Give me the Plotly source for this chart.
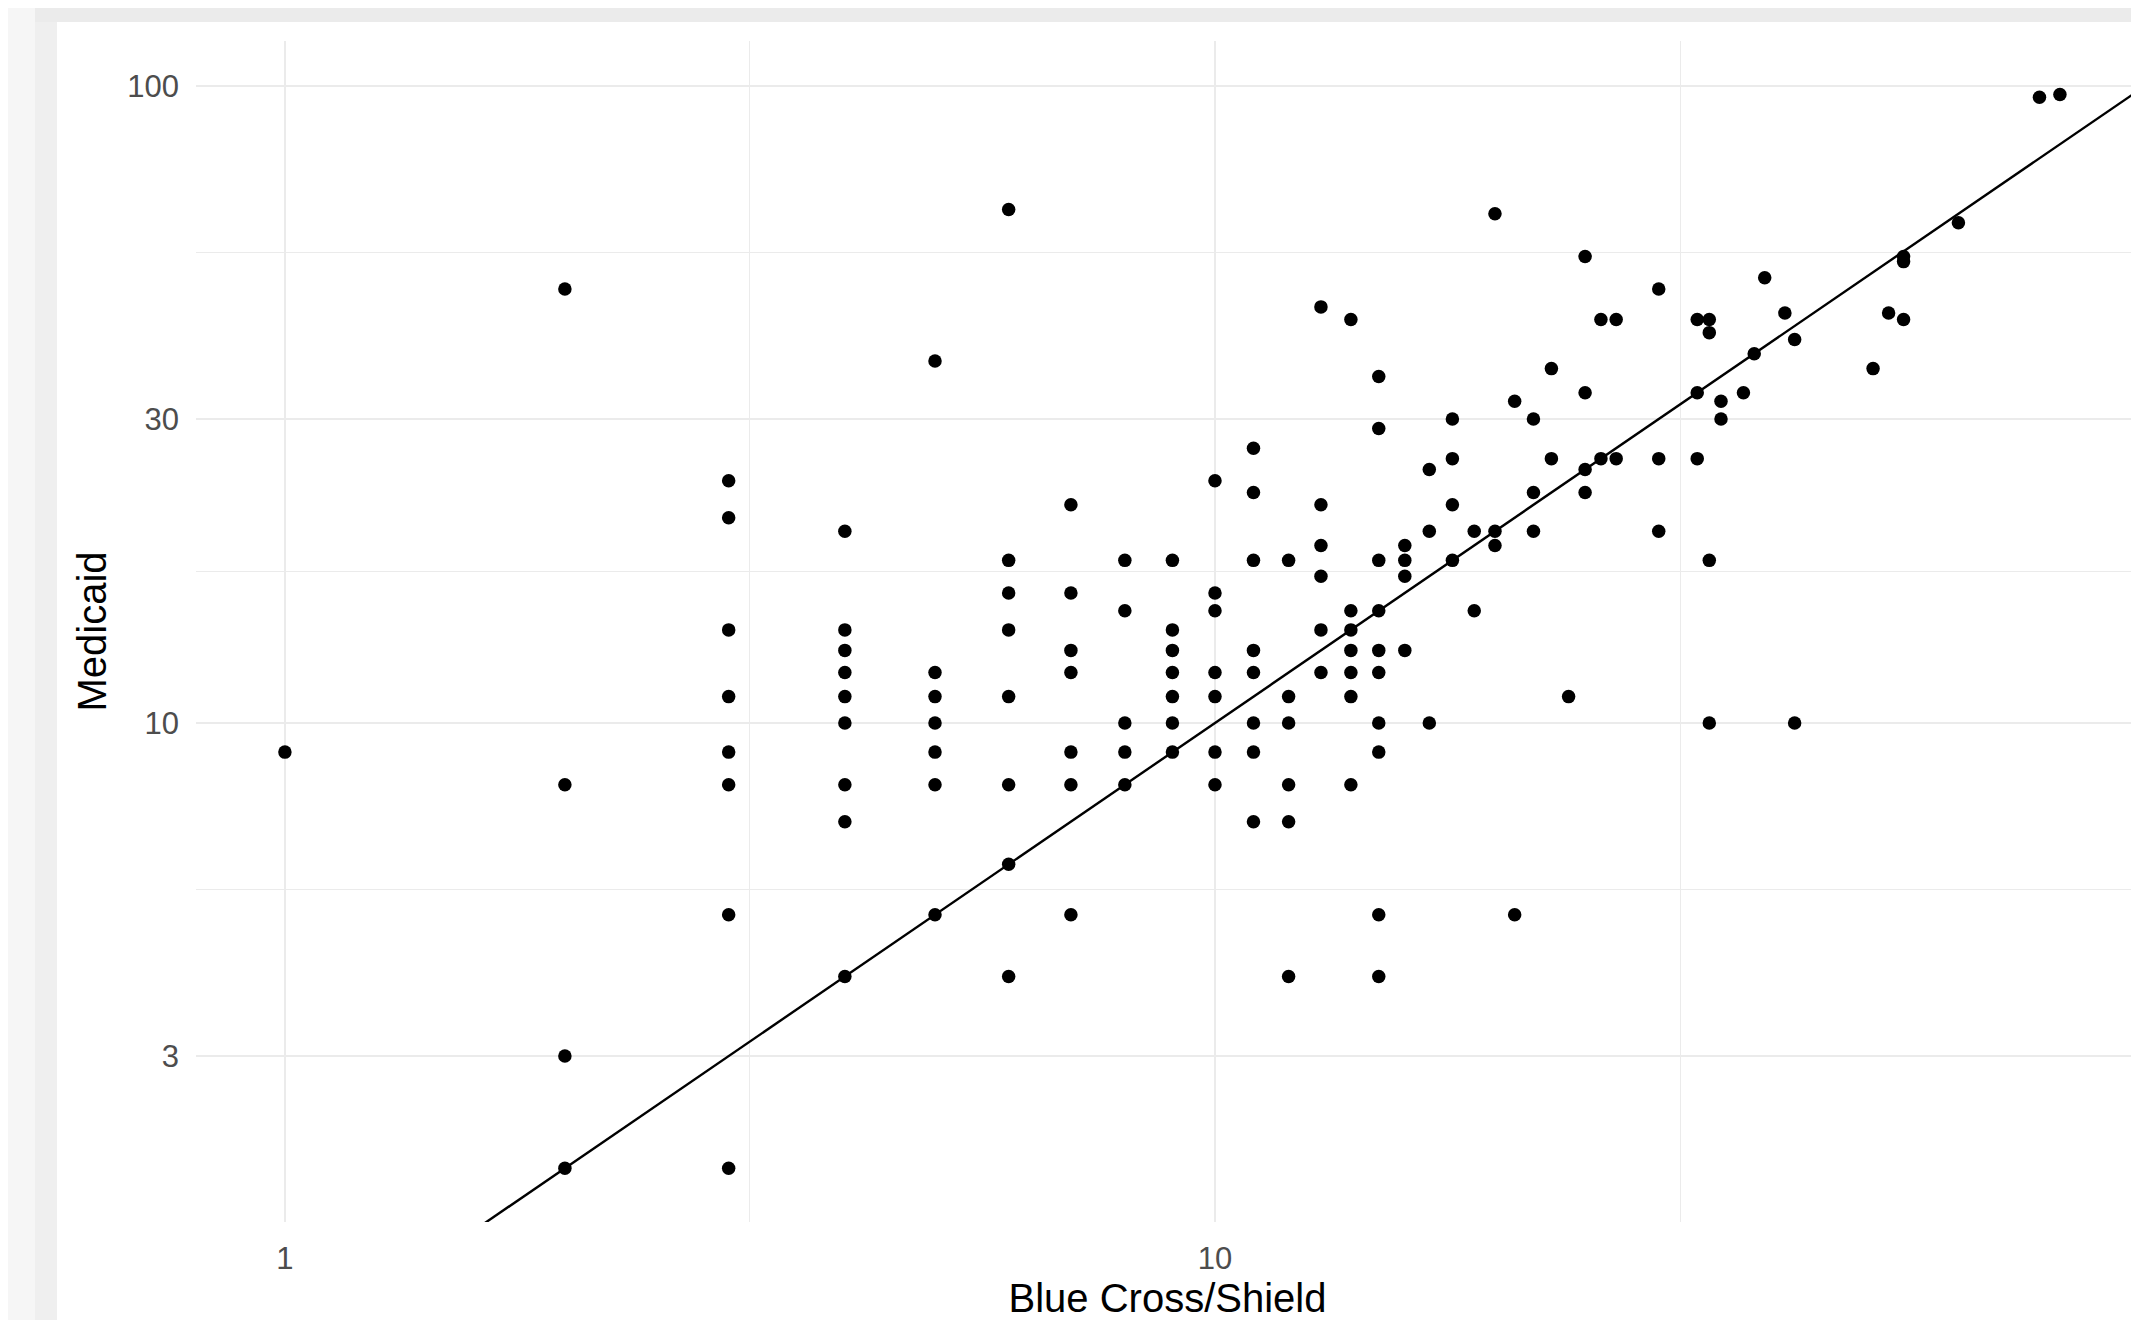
import plotly.graph_objects as go

# Blue Cross/Shield (x) and Medicaid (y) values, read column by column
blue_cross = [
    1,
    2, 2, 2, 2,
    3, 3, 3, 3, 3, 3, 3, 3,
    4, 4, 4, 4, 4, 4, 4, 4, 4,
    5, 5, 5, 5, 5, 5, 5,
    6, 6, 6, 6, 6, 6, 6, 6,
    7, 7, 7, 7, 7, 7, 7,
    8, 8, 8, 8, 8,
    9, 9, 9, 9, 9, 9, 9,
    10, 10, 10, 10, 10, 10, 10,
    11, 11, 11, 11, 11, 11, 11, 11,
    12, 12, 12, 12, 12, 12,
    13, 13, 13, 13, 13, 13,
    14, 14, 14, 14, 14, 14, 14,
    15, 15, 15, 15, 15, 15, 15, 15, 15, 15,
    16, 16, 16, 16,
    17, 17, 17,
    18, 18, 18, 18,
    19, 19,
    20, 20, 20,
    21, 21,
    22, 22, 22,
    23, 23,
    24,
    25, 25, 25, 25,
    26, 26,
    27, 27,
    30, 30, 30,
    33, 33, 33,
    34, 34, 34, 34,
    35, 35,
    37,
    38,
    39,
    41,
    42, 42,
    51,
    53,
    55, 55, 55,
    63,
    77,
    81,
]
medicaid = [
    9,
    48, 8, 3, 2,
    24, 21, 14, 11, 9, 8, 5, 2,
    20, 14, 13, 12, 11, 10, 8, 7, 4,
    37, 12, 11, 10, 9, 8, 5,
    64, 18, 16, 14, 11, 8, 6, 4,
    22, 16, 13, 12, 9, 8, 5,
    18, 15, 10, 9, 8,
    18, 14, 13, 12, 11, 10, 9,
    24, 16, 15, 12, 11, 9, 8,
    27, 23, 18, 13, 12, 10, 9, 7,
    18, 11, 10, 8, 7, 4,
    45, 22, 19, 17, 14, 12,
    43, 15, 14, 13, 12, 11, 8,
    35, 29, 18, 15, 13, 12, 10, 9, 5, 4,
    19, 18, 17, 13,
    25, 20, 10,
    30, 26, 22, 18,
    20, 15,
    63, 20, 19,
    32, 5,
    30, 23, 20,
    36, 26,
    11,
    54, 33, 25, 23,
    43, 26,
    43, 26,
    48, 26, 20,
    43, 33, 26,
    43, 41, 18, 10,
    32, 30,
    33,
    38,
    50,
    44,
    40, 10,
    36,
    44,
    54, 53, 43,
    61,
    96,
    97,
]

# identity reference line (y = x)
ref_line = [0.5, 200]

x_ticks = [1, 10, 100]
x_tick_labels = ["1", "10", "100"]
y_ticks = [3, 10, 30, 100]
y_tick_labels = ["3", "10", "30", "100"]
x_minor = [10 ** 0.5, 10 ** 1.5]
y_minor = [30 ** 0.5, 300 ** 0.5, 3000 ** 0.5]

x_title = "Blue Cross/Shield"
y_title = "Medicaid"

# the page body has an 8px margin; size the figure so the page never scrolls
OFF = 8
W, H = 2139 - OFF, 1328 - 2 * OFF
L, R, T = 196 - OFF, 0, 41 - OFF
B = H - (1222 - OFF)
PW, PH = W - L - R, H - T - B


def px_x(p):
    # page pixel -> paper coordinate
    return (p - OFF - L) / PW


def px_y(p):
    return (H - B - (p - OFF)) / PH


FONT = "Arial, Liberation Sans, Helvetica, sans-serif"
GRID = "#ebebeb"

fig = go.Figure()
fig.add_trace(go.Scatter(
    x=blue_cross, y=medicaid, mode="markers",
    marker=dict(color="black", size=13.5, line=dict(width=0)),
    hoverinfo="skip", showlegend=False,
))
fig.add_trace(go.Scatter(
    x=ref_line, y=ref_line, mode="lines",
    line=dict(color="black", width=2.4),
    hoverinfo="skip", showlegend=False,
))

shapes = [
    dict(type="rect", xref="paper", yref="paper", layer="below",
         x0=px_x(0), x1=px_x(35), y0=px_y(1340), y1=px_y(0),
         fillcolor="#f6f6f6", line=dict(width=0)),
    dict(type="rect", xref="paper", yref="paper", layer="below",
         x0=px_x(35), x1=px_x(57), y0=px_y(1340), y1=px_y(0),
         fillcolor="#efefef", line=dict(width=0)),
    dict(type="rect", xref="paper", yref="paper", layer="below",
         x0=px_x(35), x1=px_x(2145), y0=px_y(22), y1=px_y(0),
         fillcolor="#ebebeb", line=dict(width=0)),
]

fig.update_layout(
    width=W, height=H, autosize=False,
    margin=dict(l=L, r=R, t=T, b=B, pad=0),
    paper_bgcolor="white", plot_bgcolor="white",
    font=dict(family=FONT),
    showlegend=False, hovermode=False,
    shapes=shapes,
    xaxis=dict(
        type="log", range=[-0.0956, 1.9935],
        tickmode="array", tickvals=x_ticks, ticktext=x_tick_labels,
        ticks="", showline=False, zeroline=False,
        showgrid=True, gridcolor=GRID, gridwidth=2.2,
        minor=dict(tickmode="array", tickvals=x_minor, showgrid=True,
                   gridcolor=GRID, gridwidth=1.2, ticks=""),
        tickfont=dict(size=31, color="#4d4d4d", family=FONT),
        ticklabelstandoff=15,
        title=dict(text=x_title, font=dict(size=40, color="black", family=FONT),
                   standoff=14),
        automargin=False,
    ),
    yaxis=dict(
        type="log", range=[0.2166, 2.0706],
        tickmode="array", tickvals=y_ticks, ticktext=y_tick_labels,
        ticks="", showline=False, zeroline=False,
        showgrid=True, gridcolor=GRID, gridwidth=2.2,
        minor=dict(tickmode="array", tickvals=y_minor, showgrid=True,
                   gridcolor=GRID, gridwidth=1.2, ticks=""),
        tickfont=dict(size=31, color="#4d4d4d", family=FONT),
        ticklabelstandoff=16,
        title=dict(text=y_title, font=dict(size=40, color="black", family=FONT),
                   standoff=8),
        automargin=False,
    ),
)

fig.write_html("out.html")
